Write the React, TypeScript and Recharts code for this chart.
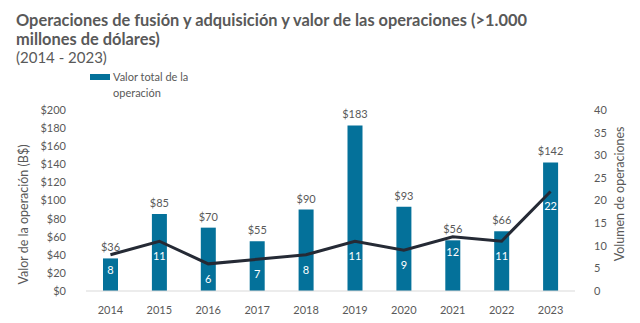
import { ComposedChart, Bar, Line, XAxis, YAxis, LabelList } from 'recharts'

const YEARS = ['2014', '2015', '2016', '2017', '2018', '2019', '2020', '2021', '2022', '2023']
const VALOR = [36, 85, 70, 55, 90, 183, 93, 56, 66, 142]
const VOLUMEN = [8, 11, 6, 7, 8, 11, 9, 12, 11, 22]
const LEFT_TICKS = [0, 20, 40, 60, 80, 100, 120, 140, 160, 180, 200]
const RIGHT_TICKS = [0, 5, 10, 15, 20, 25, 30, 35, 40]

const FONT = 'Lato, "Open Sans", sans-serif'
const GRAY = '#595959'
const BAR = '#04719a'
const LINE = '#252a35'

const data = YEARS.map((year, i) => ({ year, valor: VALOR[i], volumen: VOLUMEN[i] }))

export default function App() {
  return (
    <div style={{ position: 'absolute', left: 0, top: 0, width: 640, height: 323, background: '#fff', fontFamily: FONT }}>
      {/* heading */}
      <div style={{ position: 'absolute', left: 16, top: 10, color: GRAY, fontSize: 16.4, fontWeight: 700, lineHeight: '19px' }}>
        Operaciones de fusión y adquisición y valor de las operaciones (&gt;1.000
        <br />
        millones de dólares)
      </div>
      <div style={{ position: 'absolute', left: 16, top: 48, color: GRAY, fontSize: 15, lineHeight: '18px' }}>
        (2014 - 2023)
      </div>

      {/* legend */}
      <div style={{ position: 'absolute', left: 90, top: 74, width: 20, height: 6, background: BAR }} />
      <div style={{ position: 'absolute', left: 113, top: 69, color: GRAY, fontSize: 11, lineHeight: '16px' }}>
        Valor total de la
        <br />
        operación
      </div>

      <div style={{ position: 'absolute', left: 0, top: 0 }}>
        <ComposedChart width={640} height={323} data={data} margin={{ top: 110, right: 0, bottom: 0, left: 0 }}>
          <XAxis
            dataKey="year"
            height={32}
            tickLine={false}
            axisLine={{ stroke: '#d9d9d9' }}
            tick={{ fill: GRAY, fontSize: 11, fontFamily: FONT }}
            tickMargin={9}
          />
          <YAxis
            yAxisId="left"
            width={86}
            domain={[0, 200]}
            ticks={LEFT_TICKS}
            interval={0}
            tickFormatter={(v) => `$${v}`}
            tickLine={false}
            axisLine={false}
            tickMargin={14}
            tick={{ fill: GRAY, fontSize: 11, fontFamily: FONT }}
            label={{
              value: 'Valor de la operación (B$)',
              angle: -90,
              position: 'insideLeft',
              offset: 24,
              dy: 84,
              fill: GRAY,
              fontSize: 12.5,
              fontFamily: FONT,
            }}
          />
          <YAxis
            yAxisId="right"
            orientation="right"
            width={65}
            domain={[0, 40]}
            ticks={RIGHT_TICKS}
            interval={0}
            tickLine={false}
            axisLine={false}
            tickMargin={13}
            tick={{ fill: GRAY, fontSize: 11, fontFamily: FONT, textAnchor: 'start' }}
            label={{
              value: 'Volumen de operaciones',
              angle: -90,
              position: 'insideRight',
              offset: 20,
              dy: -74,
              fill: GRAY,
              fontSize: 12.5,
              fontFamily: FONT,
            }}
          />
          <Bar yAxisId="left" dataKey="valor" fill={BAR} barSize={15} isAnimationActive={false}>
            <LabelList
              dataKey="valor"
              position="top"
              offset={7}
              formatter={(v: any) => `$${v}`}
              style={{ fill: GRAY, fontSize: 11, fontFamily: FONT }}
            />
          </Bar>
          <Line
            yAxisId="right"
            dataKey="volumen"
            stroke={LINE}
            strokeWidth={3}
            dot={false}
            activeDot={false}
            type="linear"
            isAnimationActive={false}
          >
            <LabelList
              dataKey="volumen"
              position="bottom"
              offset={11}
              style={{ fill: '#fff', fontSize: 11, fontFamily: FONT }}
            />
          </Line>
        </ComposedChart>
      </div>
    </div>
  )
}
